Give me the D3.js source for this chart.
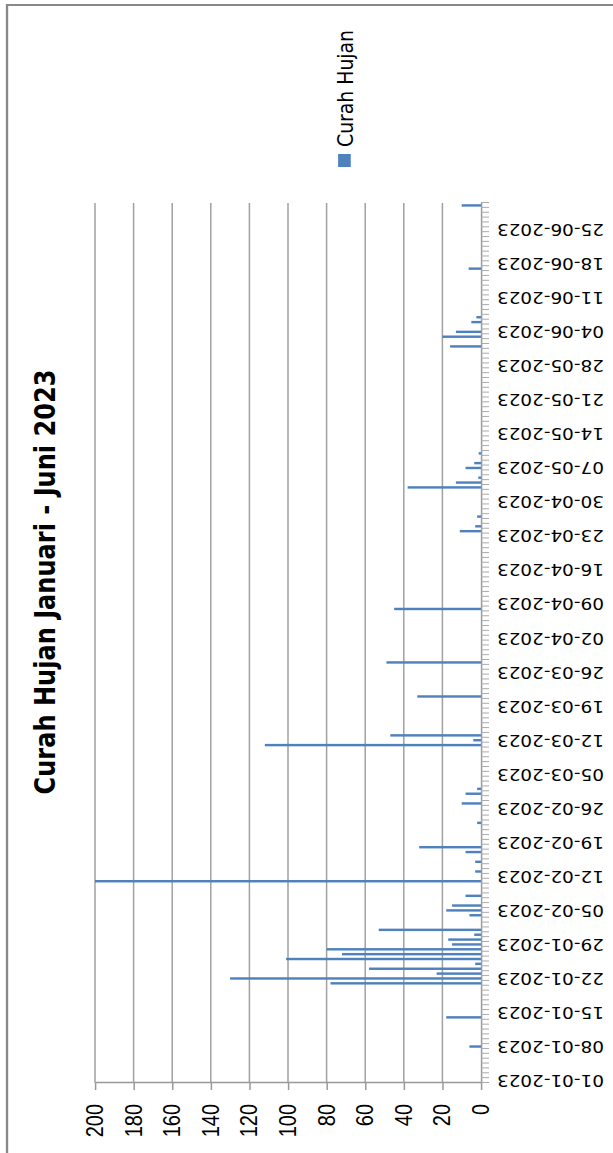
<!DOCTYPE html>
<html>
<head>
<meta charset="utf-8">
<script src="https://cdn.jsdelivr.net/npm/d3@7"></script>
<style>
  body { margin: 0; background: #fff; }
</style>
</head>
<body>
<div id="chart"></div>
<script>
// chart data (daily rainfall, only the rainy days are listed)
const chartTitle = "Curah Hujan Januari - Juni 2023";
const seriesName = "Curah Hujan";
const firstDay = "01-01-2023";
const lastDay = "30-06-2023";
const rainDates = [
  "08-01-2023", "14-01-2023", "21-01-2023", "22-01-2023", "23-01-2023", "24-01-2023",
  "25-01-2023", "26-01-2023", "27-01-2023", "28-01-2023", "29-01-2023", "30-01-2023",
  "31-01-2023", "01-02-2023", "04-02-2023", "05-02-2023", "06-02-2023", "08-02-2023",
  "11-02-2023", "13-02-2023", "15-02-2023", "17-02-2023", "18-02-2023", "23-02-2023",
  "27-02-2023", "01-03-2023", "02-03-2023", "11-03-2023", "12-03-2023", "13-03-2023",
  "21-03-2023", "28-03-2023", "08-04-2023", "24-04-2023", "25-04-2023", "27-04-2023",
  "03-05-2023", "04-05-2023", "05-05-2023", "07-05-2023", "08-05-2023", "10-05-2023",
  "01-06-2023", "03-06-2023", "04-06-2023", "06-06-2023", "07-06-2023", "17-06-2023",
  "30-06-2023"
];
const rainValues = [
  6, 18, 78, 130, 23, 58,
  3, 101, 72, 80, 15, 17,
  3.5, 53, 6, 18, 15, 8,
  200, 3, 3, 8, 32, 2,
  10, 8, 2, 112, 4, 47,
  33, 49, 45, 11, 3, 2,
  38, 13, 1.4, 8, 3.5, 1.2,
  16, 20, 13, 5, 2.4, 6.4,
  10
];
const valueTicks = [0, 20, 40, 60, 80, 100, 120, 140, 160, 180, 200];
const labelEvery = 7;

var width = 613;
var height = 1153;
var sx = 1.15; // the picture is a bit wider than tall once rotated

var parseDay = d3.timeParse("%d-%m-%Y");
var fmtDay = d3.timeFormat("%d-%m-%Y");
var days = d3.timeDay.range(parseDay(firstDay), d3.timeDay.offset(parseDay(lastDay), 1)).map(fmtDay);

var rain = {};
rainDates.forEach((d, i) => rain[d] = rainValues[i]);
var data = days.map(d => ({ day: d, value: rain[d] || 0 }));

let svg = d3.select("#chart")
    .append("svg")
    .attr("width", width)
    .attr("height", height)
    .style("display", "block")

// landscape chart, turned a quarter to the left
let g = svg.append("g")
    .attr("transform", "matrix(0,-1," + sx + ",0,0," + height + ")")

// outer frame
g.append("rect")
    .attr("x", -20)
    .attr("y", 6.1)
    .attr("width", 1148 + 20)
    .attr("height", 700)
    .attr("fill", "#fff")
    .attr("stroke", "#888")
    .attr("stroke-width", 2)

var x0 = 70, x1 = 950;
var yTop = 95 / sx, yBase = 481 / sx;

const x = d3.scaleBand()
    .domain(days)
    .range([x0, x1])
    .paddingInner(0.5)
    .paddingOuter(0.25)

const xEdge = d3.scaleLinear()
    .domain([0, days.length])
    .range([x0, x1])

const y = d3.scaleLinear()
    .domain([0, 200])
    .range([yBase, yTop])

// gridlines
g.append("g")
    .selectAll("line")
    .data(valueTicks.filter(v => v > 0))
    .join("line")
    .attr("x1", x0)
    .attr("x2", x1)
    .attr("y1", d => y(d))
    .attr("y2", d => y(d))
    .attr("stroke", "#a0a0a0")
    .attr("stroke-width", 1.3)

// bars
g.append("g")
    .selectAll("rect")
    .data(data.filter(d => d.value > 0))
    .join("rect")
    .attr("x", d => x(d.day))
    .attr("width", x.bandwidth())
    .attr("y", d => y(d.value))
    .attr("height", d => yBase - y(d.value))
    .attr("fill", "#4f81bd")

// value axis
var yAxis = g.append("g")
    .attr("transform", "translate(" + x0 + ",0)")
    .call(d3.axisLeft(y).tickValues(valueTicks).tickSize(7).tickPadding(14).tickSizeOuter(0))
yAxis.select(".domain").attr("stroke", "#999").attr("stroke-width", 1.3)
yAxis.selectAll(".tick line").attr("stroke", "#999").attr("stroke-width", 1.3)
yAxis.selectAll("text")
    .attr("font-family", "Liberation Sans, Arial, sans-serif")
    .attr("font-size", 20)
    .attr("fill", "#000")

// category axis: a tick on every day boundary
var xAxis = g.append("g")
    .attr("transform", "translate(0," + yBase + ")")
    .call(d3.axisBottom(xEdge).tickValues(d3.range(0, days.length + 1)).tickSize(7).tickFormat("").tickSizeOuter(0))
xAxis.select(".domain").attr("stroke", "#999").attr("stroke-width", 1.3)
xAxis.selectAll(".tick line").attr("stroke", "#aaa").attr("stroke-width", 1)

// date labels, one per week
g.append("g")
    .selectAll("text")
    .data(days.filter((d, i) => i % labelEvery === 0))
    .join("text")
    .attr("transform", d => "translate(" + (x(d) + x.bandwidth() / 2) + "," + (497 / sx) + ") rotate(-90)")
    .attr("dy", "0.35em")
    .attr("text-anchor", "end")
    .attr("font-family", "DejaVu Sans, sans-serif")
    .attr("font-size", 16)
    .attr("fill", "#000")
    .text(d => d)

function fitText(sel, target) {
    var len = sel.node().getComputedTextLength();
    var fs = +sel.attr("font-size");
    sel.attr("font-size", fs * target / len);
}

// title
var title = g.append("text")
    .attr("x", 571)
    .attr("y", 45 / sx)
    .attr("dy", "0.35em")
    .attr("text-anchor", "middle")
    .attr("font-family", "DejaVu Sans, sans-serif")
    .attr("font-weight", "bold")
    .attr("font-size", 20)
    .attr("fill", "#000")
    .text(chartTitle)
fitText(title, 425)

// legend
var legend = g.append("g")
    .attr("transform", "translate(986," + (345 / sx) + ")")
legend.append("rect")
    .attr("x", 0)
    .attr("y", -6)
    .attr("width", 13)
    .attr("height", 11)
    .attr("fill", "#4f81bd")
var legendText = legend.append("text")
    .attr("x", 20)
    .attr("dy", "0.35em")
    .attr("font-family", "DejaVu Sans, sans-serif")
    .attr("font-size", 18)
    .attr("fill", "#000")
    .text(seriesName)
fitText(legendText, 117)
</script>
</body>
</html>
